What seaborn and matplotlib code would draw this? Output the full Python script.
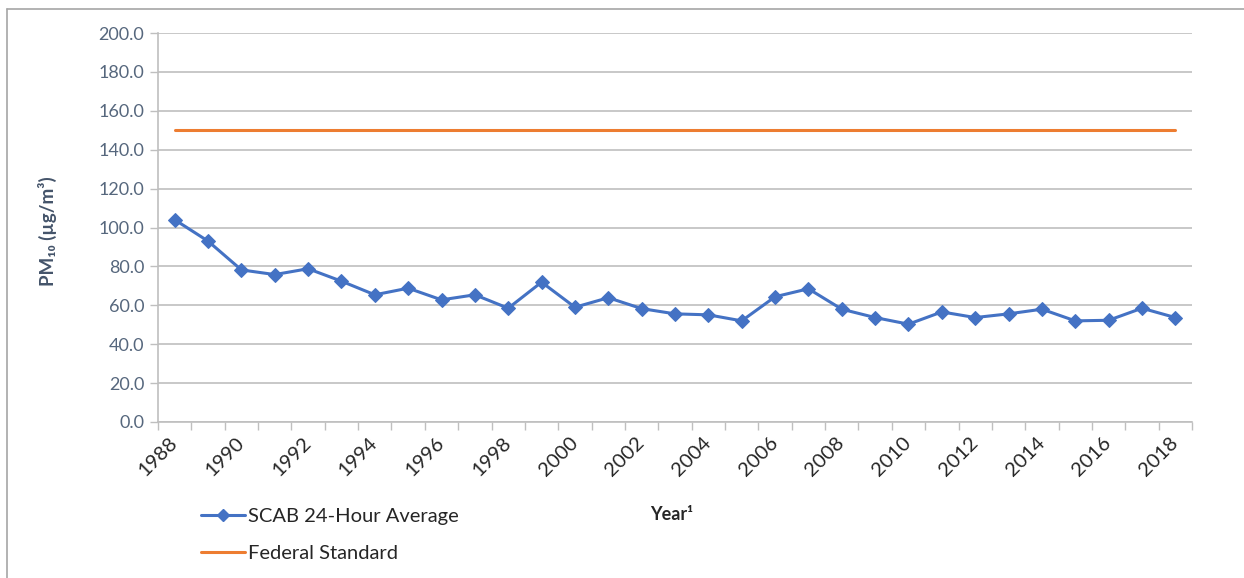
import pandas as pd
import numpy as np
import matplotlib
matplotlib.use('Agg')
import matplotlib.pyplot as plt
from matplotlib.lines import Line2D
import seaborn as sns

#%%
'''DATA'''
years = list(range(1988, 2019))
scab_avg = [104.0, 93.0, 78.2, 75.8, 78.8, 72.4, 65.4, 68.8, 62.8, 65.4, 58.5,
            71.9, 59.0, 63.9, 58.3, 55.6, 55.1, 52.0, 64.4, 68.5, 58.0, 53.7,
            50.3, 56.6, 53.7, 55.6, 58.0, 52.0, 52.3, 58.5, 53.7]
fed_std = [150.0] * len(years)
ytick_vals = [0, 20, 40, 60, 80, 100, 120, 140, 160, 180, 200]

df = pd.DataFrame({'pos': np.arange(len(years)), 'Year': years,
                   'SCAB': scab_avg, 'Federal': fed_std})

#%%
'''PLOT'''
sns.set_style('white')
plt.rcParams['font.family'] = ['Lato', 'DejaVu Sans']

W, H = 1244, 578
fig = plt.figure(figsize=(W / 100, H / 100), dpi=100)
ax = fig.add_axes([158 / W, 1 - 422 / H, (1192 - 158) / W, (422 - 33) / H])

blue = '#4472C4'
orange = '#ED7D31'
grid = '#BFBFBF'

sns.lineplot(data=df, x='pos', y='SCAB', ax=ax, color=blue, lw=2.2,
             marker='D', markersize=7, markeredgecolor=blue, errorbar=None)
sns.lineplot(data=df, x='pos', y='Federal', ax=ax, color=orange, lw=2.2,
             errorbar=None)

#Axis settings
ax.set_xlim(-0.5, len(years) - 0.5)
ax.set_ylim(0, 200)
ax.set_yticks(ytick_vals)
ax.set_yticklabels([f'{v:.1f}' for v in ytick_vals])
ax.yaxis.grid(True, color=grid, lw=1.2)
ax.set_axisbelow(True)

even = [i for i, y in enumerate(years) if y % 2 == 0]
ax.set_xticks(even)
ax.set_xticklabels([str(years[i]) for i in even], rotation=45, ha='right',
                   va='center', rotation_mode='anchor')
ax.set_xticks(np.arange(-0.5, len(years)), minor=True)
ax.tick_params(axis='x', which='major', length=0, pad=13, labelsize=14.5,
               labelcolor='#262626')
ax.tick_params(axis='x', which='minor', length=6, width=1, color=grid,
               direction='out', bottom=True)
ax.tick_params(axis='y', length=6, width=1, color=grid, direction='out',
               left=True, labelsize=13, labelcolor='#56677D', pad=4)

for s in ['top', 'right']:
    ax.spines[s].set_visible(False)
for s in ['left', 'bottom']:
    ax.spines[s].set_color(grid)
    ax.spines[s].set_linewidth(1.2)

ax.set_xlabel('')
ax.set_ylabel('PM₁₀ (µg/m³)', fontweight='bold', color='#44546A', fontsize=13.5)
ax.yaxis.set_label_coords(-0.098, 0.49)

fig.text(672 / W, 1 - 515 / H, 'Year¹', ha='center', va='center',
         fontweight='bold', fontsize=13, color='#262626')

#Legend
handles = [Line2D([], [], color=blue, lw=2.2, marker='D', markersize=6),
           Line2D([], [], color=orange, lw=2.2)]
fig.legend(handles, ['SCAB 24-Hour Average', 'Federal Standard'],
           loc='upper left', bbox_to_anchor=(183 / W, 1 - 490 / H),
           frameon=False, fontsize=14.5, handlelength=2.2, handletextpad=0.15,
           labelspacing=1.0, labelcolor='#262626')

#Outer border (top and left)
fig.add_artist(Line2D([7 / W, 7 / W], [0, 1 - 9 / H], color='#A6A6A6', lw=1.2))
fig.add_artist(Line2D([7 / W, 1], [1 - 9 / H, 1 - 9 / H], color='#A6A6A6', lw=1.2))

fig.savefig('out.png', dpi=100)
